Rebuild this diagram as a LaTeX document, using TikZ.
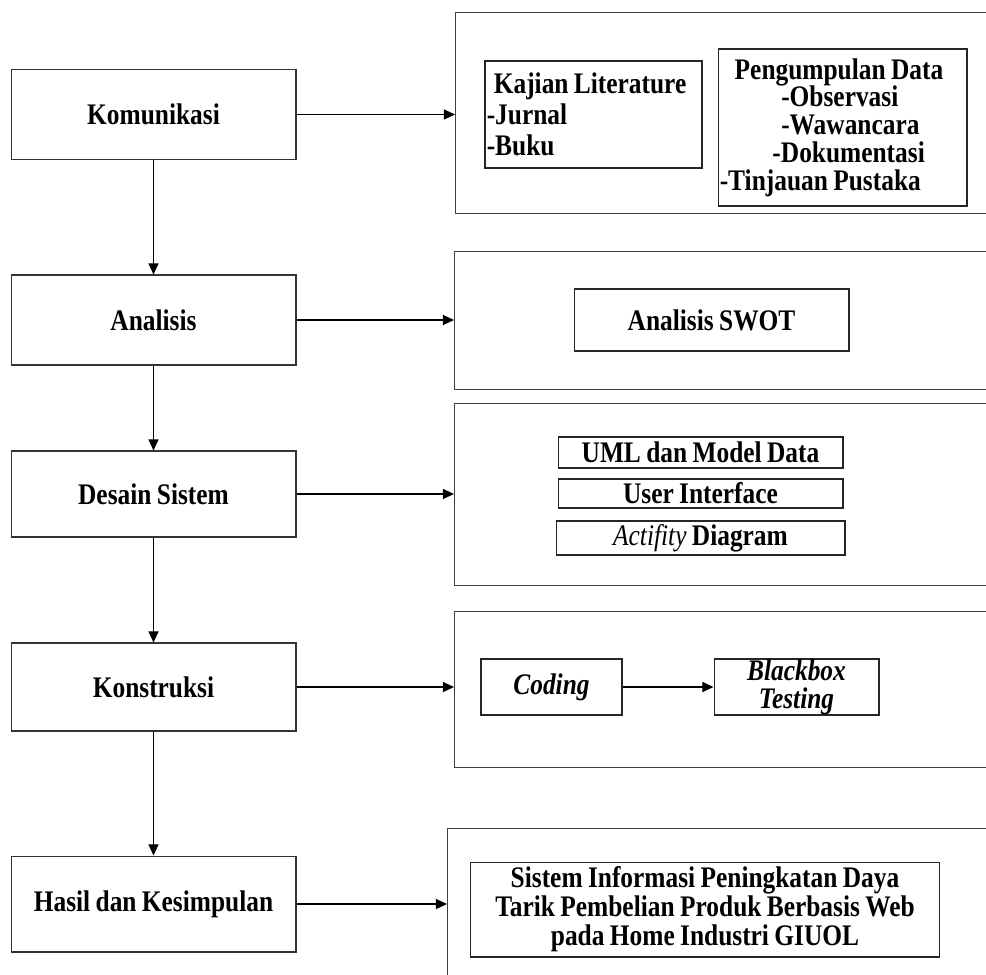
\documentclass[tikz,border=0pt]{standalone}
\usepackage{fontspec}
\setmainfont{Liberation Serif}[FakeStretch=0.85, WordSpace=0.85]
\usetikzlibrary{arrows.meta}

\tikzset{
  tahap/.style={draw=black!80, line width=0.6pt, minimum width=5.7cm, minimum height=1.8cm,
    inner sep=0pt, font=\fontsize{17}{16.5}\selectfont\bfseries},
  wadah/.style={draw=black!75, line width=0.6pt, anchor=north west, minimum width=11cm, inner sep=0pt},
  isi/.style={draw=black!85, line width=0.6pt, inner sep=0pt, align=center,
    font=\fontsize{17}{16.5}\selectfont\bfseries},
  panah/.style={line width=0.6pt, -{Triangle[length=6.3pt,width=5.7pt]}},
}

\begin{document}
\begin{tikzpicture}[x=0.02cm,y=-0.02cm]
		\clip (0,0) rectangle (986,974);

		% Tahapan di kolom kiri
			\node[tahap] (komunikasi) at (153.5,114.5) {Komunikasi};
			\node[tahap] (analisis) at (153.5,320) {Analisis};
			\node[tahap, minimum height=1.72cm] (desain) at (153.5,494) {Desain Sistem};
			\node[tahap, minimum height=1.76cm] (konstruksi) at (153.5,687) {Konstruksi};
			\node[tahap, minimum height=1.92cm] (hasil) at (153.5,904) {Hasil dan Kesimpulan};

		% Kotak besar di kanan
			\node[wadah, minimum height=4.02cm] (kotak1) at (455,12) {};
			\node[wadah, minimum height=2.76cm] (kotak2) at (454,251) {};
			\node[wadah, minimum height=3.64cm] (kotak3) at (454,403) {};
			\node[wadah, minimum height=3.12cm] (kotak4) at (454,611) {};
			\node[wadah, minimum height=4cm] (kotak5) at (447,828) {};

		% Isi kotak
			\node[isi, minimum width=4.34cm, minimum height=2.14cm, inner xsep=1pt, text width=4.27cm,
				align=flush left, font=\fontsize{17}{17.5}\selectfont\bfseries] (kajian) at (593.5,114.5)
				{\hspace*{4pt}Kajian Literature\\-Jurnal\\-Buku};
			\node[isi, minimum width=4.98cm, minimum height=3.14cm, inner xsep=1pt, text width=4.91cm,
				align=flush left, font=\fontsize{17}{15.8}\selectfont\bfseries] (data) at (842.5,127.5)
				{\hspace*{8.5pt}Pengumpulan Data\\\hspace*{35pt}-Observasi\\\hspace*{35pt}-Wawancara\\
				 \hspace*{30pt}-Dokumentasi\\-Tinjauan Pustaka};
			\node[isi, minimum width=5.5cm, minimum height=1.24cm] (swot) at (711.5,320) {Analisis SWOT};
			\node[isi, minimum width=5.7cm, minimum height=0.62cm] (uml) at (700.5,452.5) {UML dan Model Data};
			\node[isi, minimum width=5.7cm, minimum height=0.58cm] (ui) at (700.5,493.5) {User Interface};
			\node[isi, minimum width=5.78cm, minimum height=0.68cm] (activity) at (700.5,538)
				{{\mdseries\itshape Actifity} Diagram};
			\node[isi, minimum width=2.82cm, minimum height=1.12cm, font=\fontsize{17}{16}\selectfont\bfseries\itshape]
				(coding) at (551.5,687) {Coding};
			\node[isi, minimum width=3.3cm, minimum height=1.12cm, font=\fontsize{17}{16}\selectfont\bfseries\itshape]
				(blackbox) at (796.5,687) {Blackbox\\Testing};
			\node[isi, minimum width=9.4cm, minimum height=1.9cm] (sistem) at (705,909.5)
				{Sistem Informasi Peningkatan Daya\\Tarik Pembelian Produk Berbasis Web\\pada Home Industri GIUOL};

		% Panah
			\foreach \a/\b in {komunikasi/analisis, analisis/desain, desain/konstruksi, konstruksi/hasil}
				\draw[panah] (\a) -- (\b);
			\draw[panah] (komunikasi.east) -- (komunikasi.east -| kotak1.west);
			\draw[panah] (analisis.east) -- (analisis.east -| kotak2.west);
			\draw[panah] (desain.east) -- (desain.east -| kotak3.west);
			\draw[panah] (konstruksi.east) -- (konstruksi.east -| kotak4.west);
			\draw[panah] (hasil.east) -- (hasil.east -| kotak5.west);
			\draw[panah] (coding) -- (blackbox);
	\end{tikzpicture}
\end{document}
